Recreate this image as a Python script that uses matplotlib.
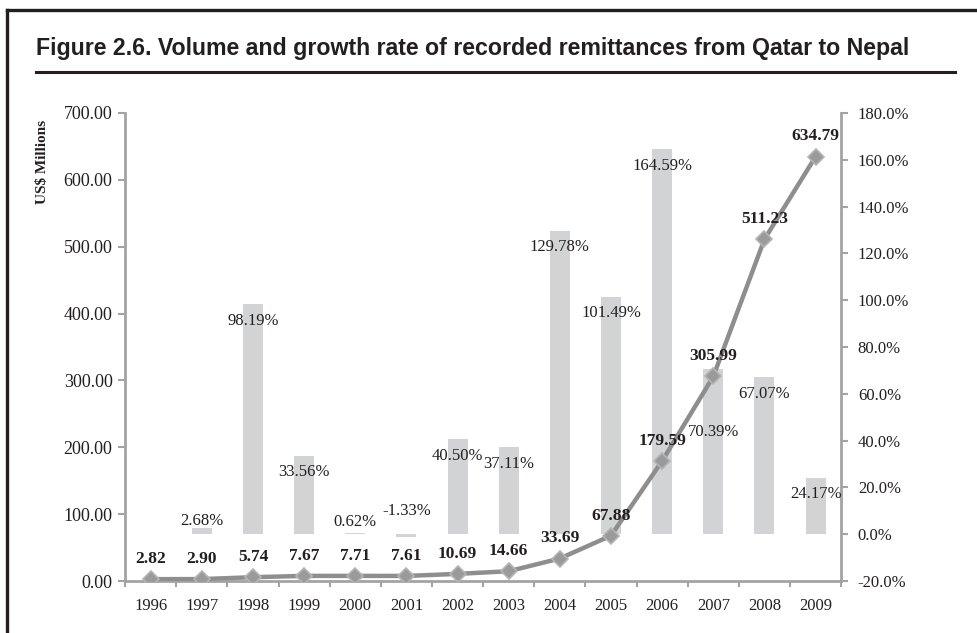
import numpy as np
import matplotlib.pyplot as plt
from matplotlib.lines import Line2D
from matplotlib.ticker import FuncFormatter, MultipleLocator, FixedLocator

# Data
years = ['1996', '1997', '1998', '1999', '2000', '2001', '2002',
         '2003', '2004', '2005', '2006', '2007', '2008', '2009']
volume = [2.82, 2.90, 5.74, 7.67, 7.71, 7.61, 10.69,
          14.66, 33.69, 67.88, 179.59, 305.99, 511.23, 634.79]
growth_years = ['1997', '1998', '1999', '2000', '2001', '2002', '2003',
                '2004', '2005', '2006', '2007', '2008', '2009']
growth = [2.68, 98.19, 33.56, 0.62, -1.33, 40.50, 37.11,
          129.78, 101.49, 164.59, 70.39, 67.07, 24.17]

# vertical nudges (points) for the growth labels, as placed in the original
growth_dy = [5, -12, -12, 8, 19, -12, -12, -12, -12, -12, -45, -12, -12]

serif = 'Liberation Serif'
txt = '#231f20'
axis_grey = '#a3a3a3'

fig = plt.figure(figsize=(9.77, 6.33), dpi=100)
ax = fig.add_axes([0.128, 0.0821, 0.733, 0.7394])
ax2 = ax.twinx()

x = np.arange(len(years))
gx = np.array([years.index(y) for y in growth_years])

# growth bars on the right axis
ax2.bar(gx, growth, width=0.39, color='#d2d3d5', zorder=1)
for xi, g, dy in zip(gx, growth, growth_dy):
    ax2.annotate(f'{g:.2f}%', (xi, g), xytext=(0, dy), textcoords='offset points',
                 ha='center', va='center', fontsize=12, family=serif, color=txt)

# volume line on the left axis, drawn above the bars
ax.set_zorder(ax2.get_zorder() + 1)
ax.patch.set_visible(False)
ax.plot(x, volume, color='#8e8e8e', lw=3.2, marker='D', ms=8,
        mfc='#9a9a9a', mec='#b4b4b4', mew=1.2, zorder=3)
for xi, v in zip(x, volume):
    ax.annotate(f'{v:.2f}', (xi, v), xytext=(0, 14.5), textcoords='offset points',
                ha='center', va='center', fontsize=12.5, family=serif,
                fontweight='bold', color=txt)

ax.set_xlim(-0.5, len(years) - 0.5)
ax.set_ylim(0, 700)
ax2.set_ylim(-20, 180)
ax.yaxis.set_major_locator(MultipleLocator(100))
ax2.yaxis.set_major_locator(MultipleLocator(20))
ax.yaxis.set_major_formatter(FuncFormatter(lambda v, p: f'{v:.2f}'))
ax2.yaxis.set_major_formatter(FuncFormatter(lambda v, p: f'{v:.1f}%'))

ax.set_xticks(x)
ax.set_xticklabels(years)
ax.xaxis.set_minor_locator(FixedLocator(np.arange(-0.5, len(years), 1.0)))

for a in (ax, ax2):
    for s in a.spines.values():
        s.set_color(axis_grey)
        s.set_linewidth(2)
    a.spines['top'].set_visible(False)
ax.spines['right'].set_visible(False)
ax2.spines['left'].set_visible(False)
ax2.spines['bottom'].set_visible(False)

ax.tick_params(axis='y', length=5, width=1.5, color=axis_grey, pad=4,
               labelsize=13, labelcolor=txt)
ax2.tick_params(axis='y', length=5, width=1.5, color=axis_grey, pad=7,
                labelsize=12, labelcolor=txt)
ax.tick_params(axis='x', which='major', length=0, pad=12, labelsize=12, labelcolor=txt)
ax.tick_params(axis='x', which='minor', length=4, width=1.5, color=axis_grey)
for lab in ax.get_xticklabels() + ax.get_yticklabels() + ax2.get_yticklabels():
    lab.set_family(serif)

ax.text(-0.115, 0.895, 'US$ Millions', transform=ax.transAxes, rotation=90,
        ha='center', va='center', fontsize=11, family=serif, fontweight='bold',
        color=txt)

# title, rule and frame
fig.text(0.037, 0.913, 'Figure 2.6. Volume and growth rate of recorded remittances from Qatar to Nepal',
         fontsize=16.7, family='Liberation Sans', fontweight='bold', color=txt, va='baseline')
fig.add_artist(Line2D([0.037, 0.9775], [0.886, 0.886], color=txt, lw=2.2))
fig.add_artist(Line2D([0.0072, 0.0072], [0, 0.984], color=txt, lw=2.4))
fig.add_artist(Line2D([0.0072, 1.0], [0.984, 0.984], color=txt, lw=2.4))

fig.savefig('out.png', dpi=100)
